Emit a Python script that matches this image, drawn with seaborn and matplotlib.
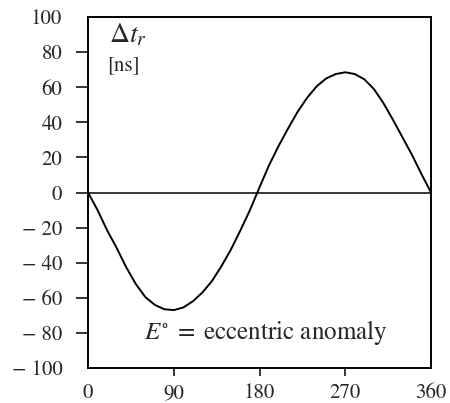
import numpy as np
import pandas as pd
import seaborn as sns
import matplotlib
matplotlib.use('Agg')
import matplotlib.pyplot as plt

# eccentric anomaly [deg] and light-time delay [ns]
anomaly = [0, 10, 20, 30, 40, 50, 60, 70, 80, 90, 100, 110, 120, 130, 140, 150,
           160, 170, 180, 190, 200, 210, 220, 230, 240, 250, 260, 270, 280, 290,
           300, 310, 320, 330, 340, 350, 360]
delay = [0, -10, -21.5, -31.5, -42.5, -52, -59.5, -64, -66.5, -67, -65.5, -62,
         -57, -50.5, -42, -32.5, -21.5, -10, 3, 15.5, 26.5, 36.5, 46, 54, 60.5,
         65, 67.5, 68.5, 67.5, 64.5, 59, 51, 41.5, 31.5, 21.5, 10.5, 0]
xticks = [0, 90, 180, 270, 360]
yticks = list(range(-100, 101, 20))

sns.set_style('ticks')
plt.rcParams['font.family'] = ['STIXGeneral', 'Liberation Serif', 'DejaVu Serif']
plt.rcParams['mathtext.fontset'] = 'stix'

df = pd.DataFrame({'E': anomaly, 'dt': delay})

fig = plt.figure(figsize=(4.5, 4.03), dpi=100)
ax = fig.add_axes([0.1956, 0.0868, 0.7622, 0.871])
sns.lineplot(data=df, x='E', y='dt', ax=ax, color='black', lw=1.4)
ax.axhline(0, color='black', lw=1.1)

ax.set_xlim(0, 360)
ax.set_ylim(-100, 100)
ax.set_xticks(xticks)
ax.set_yticks(yticks)
ax.set_xticklabels([str(t) for t in xticks])
ax.set_yticklabels([f'\u2212 {abs(t)}' if t < 0 else str(t) for t in yticks])
ax.set_xlabel('')
ax.set_ylabel('')
ax.tick_params(axis='both', labelsize=15, color='black', width=1.1)
ax.tick_params(axis='y', length=8.5, pad=10)
ax.tick_params(axis='x', length=6, pad=5)
for s in ax.spines.values():
    s.set_linewidth(1.4)
    s.set_color('black')

# no tick marks at the corners
for t in (ax.yaxis.get_major_ticks()[0], ax.yaxis.get_major_ticks()[-1],
          ax.xaxis.get_major_ticks()[0], ax.xaxis.get_major_ticks()[-1]):
    t.tick1line.set_visible(False)

ax.text(22, 97, r'$\Delta t_r$', fontsize=20, va='top', ha='left')
ax.text(20, 78, '[ns]', fontsize=15, va='top', ha='left')
ax.text(186, -80, r'$E^{\circ}\;=\;$eccentric anomaly', fontsize=18,
        ha='center', va='center')

fig.savefig('out.png', dpi=100)
